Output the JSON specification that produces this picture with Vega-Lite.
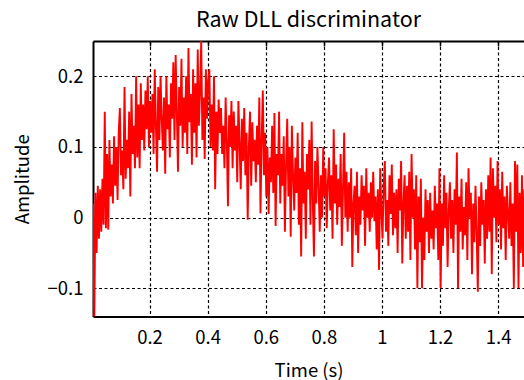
{
  "$schema": "https://vega.github.io/schema/vega-lite/v6.json",
  "width": 431,
  "height": 275.5,
  "autosize": {"type": "none"},
  "padding": {"left": 93, "top": 41, "right": 0, "bottom": 63.5},
  "title": {
    "text": "Raw DLL discriminator",
    "font": "Noto Sans CJK JP",
    "fontSize": 21.5,
    "fontWeight": "normal",
    "color": "#000000",
    "anchor": "middle",
    "baseline": "bottom",
    "offset": 10,
    "dy": 23
  },
  "data": {
    "values": [
      {"time":0.006,"amp":0.02},{"time":0.010,"amp":-0.145},{"time":0.014,"amp":0.035},{"time":0.018,"amp":-0.05},{"time":0.022,"amp":0.045},
      {"time":0.026,"amp":-0.03},{"time":0.030,"amp":0.04},{"time":0.034,"amp":-0.02},{"time":0.038,"amp":0.055},{"time":0.042,"amp":-0.01},
      {"time":0.046,"amp":0.15},{"time":0.050,"amp":-0.015},{"time":0.054,"amp":0.09},{"time":0.058,"amp":-0.017},{"time":0.062,"amp":0.11},
      {"time":0.066,"amp":0.03},{"time":0.070,"amp":0.075},{"time":0.074,"amp":0.02},{"time":0.078,"amp":0.115},{"time":0.082,"amp":0.045},
      {"time":0.086,"amp":0.10},{"time":0.090,"amp":0.025},{"time":0.094,"amp":0.12},{"time":0.098,"amp":0.155},{"time":0.102,"amp":0.06},
      {"time":0.106,"amp":0.095},{"time":0.110,"amp":0.04},{"time":0.114,"amp":0.185},{"time":0.118,"amp":0.055},{"time":0.122,"amp":0.11},
      {"time":0.126,"amp":0.07},{"time":0.130,"amp":0.15},{"time":0.134,"amp":0.03},{"time":0.138,"amp":0.175},{"time":0.142,"amp":0.09},
      {"time":0.146,"amp":0.13},{"time":0.150,"amp":0.07},{"time":0.154,"amp":0.2},{"time":0.158,"amp":0.085},{"time":0.162,"amp":0.16},
      {"time":0.166,"amp":0.07},{"time":0.170,"amp":0.19},{"time":0.174,"amp":0.11},{"time":0.178,"amp":0.16},{"time":0.182,"amp":0.095},
      {"time":0.186,"amp":0.18},{"time":0.190,"amp":0.125},{"time":0.194,"amp":0.2},{"time":0.198,"amp":0.10},{"time":0.202,"amp":0.165},
      {"time":0.206,"amp":0.12},{"time":0.210,"amp":0.175},{"time":0.214,"amp":0.09},{"time":0.218,"amp":0.21},{"time":0.222,"amp":0.13},
      {"time":0.226,"amp":0.065},{"time":0.230,"amp":0.185},{"time":0.234,"amp":0.11},{"time":0.238,"amp":0.2},{"time":0.242,"amp":0.14},
      {"time":0.246,"amp":0.095},{"time":0.250,"amp":0.17},{"time":0.254,"amp":0.062},{"time":0.258,"amp":0.2},{"time":0.262,"amp":0.125},
      {"time":0.266,"amp":0.16},{"time":0.270,"amp":0.085},{"time":0.274,"amp":0.19},{"time":0.278,"amp":0.14},{"time":0.282,"amp":0.22},
      {"time":0.286,"amp":0.11},{"time":0.290,"amp":0.23},{"time":0.294,"amp":0.15},{"time":0.298,"amp":0.065},{"time":0.302,"amp":0.185},
      {"time":0.306,"amp":0.13},{"time":0.310,"amp":0.225},{"time":0.314,"amp":0.10},{"time":0.318,"amp":0.17},{"time":0.322,"amp":0.12},
      {"time":0.326,"amp":0.2},{"time":0.330,"amp":0.09},{"time":0.334,"amp":0.24},{"time":0.338,"amp":0.135},{"time":0.342,"amp":0.175},
      {"time":0.346,"amp":0.075},{"time":0.350,"amp":0.21},{"time":0.354,"amp":0.12},{"time":0.358,"amp":0.19},{"time":0.362,"amp":0.085},
      {"time":0.366,"amp":0.238},{"time":0.370,"amp":0.13},{"time":0.374,"amp":0.18},{"time":0.378,"amp":0.25},{"time":0.382,"amp":0.11},
      {"time":0.386,"amp":0.17},{"time":0.390,"amp":0.083},{"time":0.394,"amp":0.21},{"time":0.398,"amp":0.14},{"time":0.402,"amp":0.195},
      {"time":0.406,"amp":0.21},{"time":0.410,"amp":0.10},{"time":0.414,"amp":0.16},{"time":0.418,"amp":0.095},{"time":0.422,"amp":0.2},
      {"time":0.426,"amp":0.04},{"time":0.430,"amp":0.15},{"time":0.434,"amp":0.09},{"time":0.438,"amp":0.167},{"time":0.442,"amp":0.12},
      {"time":0.446,"amp":0.155},{"time":0.450,"amp":0.09},{"time":0.454,"amp":0.13},{"time":0.458,"amp":0.07},{"time":0.462,"amp":0.17},
      {"time":0.466,"amp":0.11},{"time":0.470,"amp":0.016},{"time":0.474,"amp":0.145},{"time":0.478,"amp":0.10},{"time":0.482,"amp":0.165},
      {"time":0.486,"amp":0.07},{"time":0.490,"amp":0.15},{"time":0.494,"amp":0.095},{"time":0.498,"amp":0.13},{"time":0.502,"amp":0.05},
      {"time":0.506,"amp":0.165},{"time":0.510,"amp":0.105},{"time":0.514,"amp":0.04},{"time":0.518,"amp":0.14},{"time":0.522,"amp":0.08},
      {"time":0.526,"amp":0.155},{"time":0.530,"amp":0.06},{"time":0.534,"amp":0.12},{"time":0.538,"amp":-0.003},{"time":0.542,"amp":0.10},
      {"time":0.546,"amp":0.15},{"time":0.550,"amp":0.045},{"time":0.554,"amp":0.135},{"time":0.558,"amp":0.08},{"time":0.562,"amp":0.11},
      {"time":0.566,"amp":0.05},{"time":0.570,"amp":0.13},{"time":0.574,"amp":0.075},{"time":0.578,"amp":0.17},{"time":0.582,"amp":0.006},
      {"time":0.586,"amp":0.11},{"time":0.590,"amp":0.18},{"time":0.594,"amp":0.06},{"time":0.598,"amp":0.12},{"time":0.602,"amp":0.03},
      {"time":0.606,"amp":0.10},{"time":0.610,"amp":0.005},{"time":0.614,"amp":0.085},{"time":0.618,"amp":0.05},{"time":0.622,"amp":0.13},
      {"time":0.626,"amp":0.035},{"time":0.630,"amp":0.148},{"time":0.634,"amp":-0.012},{"time":0.638,"amp":0.09},{"time":0.642,"amp":0.06},
      {"time":0.646,"amp":0.15},{"time":0.650,"amp":0.02},{"time":0.654,"amp":0.09},{"time":0.658,"amp":0.045},{"time":0.662,"amp":0.115},
      {"time":0.666,"amp":-0.02},{"time":0.670,"amp":0.075},{"time":0.674,"amp":0.14},{"time":0.678,"amp":0.03},{"time":0.682,"amp":0.10},
      {"time":0.686,"amp":-0.027},{"time":0.690,"amp":0.13},{"time":0.694,"amp":0.06},{"time":0.698,"amp":0.01},{"time":0.702,"amp":0.085},
      {"time":0.706,"amp":0.035},{"time":0.710,"amp":0.12},{"time":0.714,"amp":-0.01},{"time":0.718,"amp":0.07},{"time":0.722,"amp":-0.055},
      {"time":0.726,"amp":0.135},{"time":0.730,"amp":0.02},{"time":0.734,"amp":0.065},{"time":0.738,"amp":-0.03},{"time":0.742,"amp":0.09},
      {"time":0.746,"amp":0.04},{"time":0.750,"amp":0.11},{"time":0.754,"amp":-0.01},{"time":0.758,"amp":0.136},{"time":0.762,"amp":0.025},
      {"time":0.766,"amp":-0.055},{"time":0.770,"amp":0.08},{"time":0.774,"amp":0.02},{"time":0.778,"amp":0.10},{"time":0.782,"amp":0.045},
      {"time":0.786,"amp":-0.02},{"time":0.790,"amp":0.06},{"time":0.794,"amp":0.0},{"time":0.798,"amp":0.10},{"time":0.802,"amp":0.03},
      {"time":0.806,"amp":0.07},{"time":0.810,"amp":-0.015},{"time":0.814,"amp":0.05},{"time":0.818,"amp":0.085},{"time":0.822,"amp":0.01},
      {"time":0.826,"amp":0.06},{"time":0.830,"amp":-0.03},{"time":0.834,"amp":0.125},{"time":0.838,"amp":0.02},{"time":0.842,"amp":0.075},
      {"time":0.846,"amp":-0.01},{"time":0.850,"amp":0.055},{"time":0.854,"amp":0.015},{"time":0.858,"amp":0.09},{"time":0.862,"amp":-0.04},
      {"time":0.866,"amp":0.04},{"time":0.870,"amp":0.12},{"time":0.874,"amp":0.0},{"time":0.878,"amp":0.065},{"time":0.882,"amp":-0.02},
      {"time":0.886,"amp":0.05},{"time":0.890,"amp":0.0},{"time":0.894,"amp":0.07},{"time":0.898,"amp":-0.07},{"time":0.902,"amp":0.02},
      {"time":0.906,"amp":0.045},{"time":0.910,"amp":-0.025},{"time":0.914,"amp":0.065},{"time":0.918,"amp":-0.05},{"time":0.922,"amp":0.03},
      {"time":0.926,"amp":-0.01},{"time":0.930,"amp":0.06},{"time":0.934,"amp":0.01},{"time":0.938,"amp":0.045},{"time":0.942,"amp":-0.04},
      {"time":0.946,"amp":0.07},{"time":0.950,"amp":0.0},{"time":0.954,"amp":0.035},{"time":0.958,"amp":-0.02},{"time":0.962,"amp":0.05},
      {"time":0.966,"amp":0.0},{"time":0.970,"amp":0.065},{"time":0.974,"amp":-0.005},{"time":0.978,"amp":0.03},{"time":0.982,"amp":-0.045},
      {"time":0.986,"amp":0.04},{"time":0.990,"amp":-0.074},{"time":0.994,"amp":0.07},{"time":0.998,"amp":0.01},{"time":1.002,"amp":-0.03},
      {"time":1.006,"amp":0.045},{"time":1.010,"amp":0.08},{"time":1.014,"amp":-0.02},{"time":1.018,"amp":0.025},{"time":1.022,"amp":-0.04},
      {"time":1.026,"amp":0.06},{"time":1.030,"amp":0.005},{"time":1.034,"amp":0.075},{"time":1.038,"amp":-0.025},{"time":1.042,"amp":0.035},
      {"time":1.046,"amp":-0.015},{"time":1.050,"amp":0.04},{"time":1.054,"amp":-0.05},{"time":1.058,"amp":0.055},{"time":1.062,"amp":0.01},
      {"time":1.066,"amp":0.08},{"time":1.070,"amp":-0.065},{"time":1.074,"amp":0.02},{"time":1.078,"amp":0.06},{"time":1.082,"amp":-0.03},
      {"time":1.086,"amp":0.045},{"time":1.090,"amp":-0.02},{"time":1.094,"amp":0.065},{"time":1.098,"amp":-0.06},{"time":1.102,"amp":0.09},
      {"time":1.106,"amp":0.0},{"time":1.110,"amp":0.04},{"time":1.114,"amp":-0.045},{"time":1.118,"amp":0.06},{"time":1.122,"amp":-0.10},
      {"time":1.126,"amp":0.03},{"time":1.130,"amp":-0.035},{"time":1.134,"amp":0.055},{"time":1.138,"amp":-0.10},{"time":1.142,"amp":0.0},
      {"time":1.146,"amp":-0.06},{"time":1.150,"amp":0.04},{"time":1.154,"amp":-0.02},{"time":1.158,"amp":0.025},{"time":1.162,"amp":-0.05},
      {"time":1.166,"amp":0.035},{"time":1.170,"amp":-0.03},{"time":1.174,"amp":0.01},{"time":1.178,"amp":-0.045},{"time":1.182,"amp":0.045},
      {"time":1.186,"amp":-0.015},{"time":1.190,"amp":0.02},{"time":1.194,"amp":-0.06},{"time":1.198,"amp":0.07},{"time":1.202,"amp":-0.10},
      {"time":1.206,"amp":0.02},{"time":1.210,"amp":-0.04},{"time":1.214,"amp":0.06},{"time":1.218,"amp":-0.015},{"time":1.222,"amp":0.035},
      {"time":1.226,"amp":-0.07},{"time":1.230,"amp":0.01},{"time":1.234,"amp":0.05},{"time":1.238,"amp":-0.03},{"time":1.242,"amp":0.025},
      {"time":1.246,"amp":-0.05},{"time":1.250,"amp":0.04},{"time":1.254,"amp":-0.01},{"time":1.258,"amp":0.092},{"time":1.262,"amp":-0.10},
      {"time":1.266,"amp":0.03},{"time":1.270,"amp":-0.02},{"time":1.274,"amp":0.055},{"time":1.278,"amp":-0.045},{"time":1.282,"amp":0.015},
      {"time":1.286,"amp":-0.025},{"time":1.290,"amp":0.05},{"time":1.294,"amp":-0.06},{"time":1.298,"amp":0.07},{"time":1.302,"amp":0.0},
      {"time":1.306,"amp":0.035},{"time":1.310,"amp":-0.08},{"time":1.314,"amp":0.02},{"time":1.318,"amp":-0.035},{"time":1.322,"amp":0.045},
      {"time":1.326,"amp":-0.02},{"time":1.330,"amp":-0.105},{"time":1.334,"amp":0.03},{"time":1.338,"amp":-0.04},{"time":1.342,"amp":0.05},
      {"time":1.346,"amp":-0.01},{"time":1.350,"amp":0.025},{"time":1.354,"amp":-0.065},{"time":1.358,"amp":0.04},{"time":1.362,"amp":-0.03},
      {"time":1.366,"amp":0.06},{"time":1.370,"amp":-0.02},{"time":1.374,"amp":0.085},{"time":1.378,"amp":-0.08},{"time":1.382,"amp":0.07},
      {"time":1.386,"amp":0.0},{"time":1.390,"amp":0.045},{"time":1.394,"amp":-0.035},{"time":1.398,"amp":0.08},{"time":1.402,"amp":-0.01},
      {"time":1.406,"amp":0.04},{"time":1.410,"amp":-0.045},{"time":1.414,"amp":0.065},{"time":1.418,"amp":-0.015},{"time":1.422,"amp":0.03},
      {"time":1.426,"amp":-0.06},{"time":1.430,"amp":0.045},{"time":1.434,"amp":0.005},{"time":1.438,"amp":-0.03},{"time":1.442,"amp":0.05},
      {"time":1.446,"amp":-0.04},{"time":1.450,"amp":0.02},{"time":1.454,"amp":-0.10},{"time":1.458,"amp":0.08},{"time":1.462,"amp":-0.02},
      {"time":1.466,"amp":0.075},{"time":1.470,"amp":-0.10},{"time":1.474,"amp":0.035},{"time":1.478,"amp":-0.05},{"time":1.482,"amp":0.06},
      {"time":1.486,"amp":-0.07},{"time":1.490,"amp":0.04}
    ]
  },
  "layer": [
    {
      "mark": {"type": "line", "color": "#ff0000", "strokeWidth": 1.9, "strokeJoin": "bevel", "clip": true},
      "encoding": {
        "x": {
          "field": "time",
          "type": "quantitative",
          "scale": {"domain": [0.0055, 1.489], "nice": false, "zero": false},
          "axis": {
            "orient": "bottom",
            "values": [0.2, 0.4, 0.6, 0.8, 1.0, 1.2, 1.4],
            "format": "~g",
            "grid": true,
            "ticks": false,
            "labelPadding": 12,
            "labelOverlap": false,
            "labelFlush": false,
            "title": "Time (s)",
            "titleBaseline": "alphabetic",
            "titleY": 59.5
          }
        },
        "y": {
          "field": "amp",
          "type": "quantitative",
          "scale": {"domain": [-0.14, 0.25], "nice": false, "zero": false},
          "axis": {
            "values": [-0.1, 0, 0.1, 0.2],
            "format": "~g",
            "grid": true,
            "ticks": false,
            "labelPadding": 10,
            "labelOverlap": false,
            "labelFlush": false,
            "title": "Amplitude",
            "titleBaseline": "alphabetic",
            "titleX": -65
          }
        }
      }
    },
    {
      "mark": {"type": "line", "strokeOpacity": 0, "clip": true},
      "encoding": {
        "x": {
          "field": "time",
          "type": "quantitative",
          "axis": {
            "orient": "top",
            "values": [0.2, 0.4, 0.6, 0.8, 1.0, 1.2, 1.4],
            "labels": false,
            "grid": false,
            "ticks": true,
            "tickSize": -5,
            "tickWidth": 1.5,
            "tickColor": "#000000",
            "title": null
          }
        },
        "y": {"field": "amp", "type": "quantitative"}
      }
    }
  ],
  "resolve": {"axis": {"x": "independent"}},
  "config": {
    "view": {"stroke": null},
    "axis": {
      "labelFont": "Noto Sans CJK JP",
      "titleFont": "Noto Sans CJK JP",
      "labelFontSize": 18.5,
      "titleFontSize": 18.5,
      "titleFontWeight": "normal",
      "labelColor": "#000000",
      "titleColor": "#000000",
      "domainColor": "#000000",
      "domainWidth": 2,
      "gridColor": "#000000",
      "gridOpacity": 1,
      "gridWidth": 1.2,
      "gridDash": [3, 2.5]
    }
  }
}
